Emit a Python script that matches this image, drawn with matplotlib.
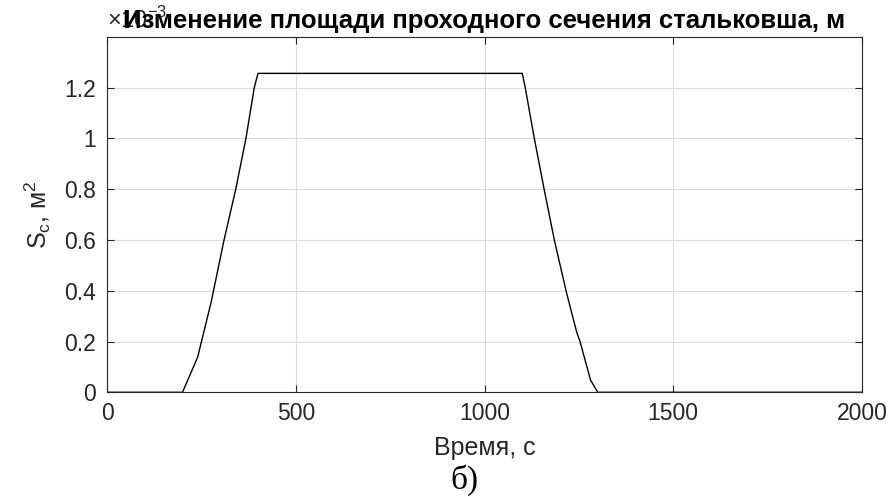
import matplotlib
matplotlib.use("Agg")
import matplotlib.pyplot as plt
from matplotlib.ticker import FuncFormatter

# time, s
time_s = [0, 200, 240, 276, 310, 341, 368, 390, 400,
          1100, 1108, 1132, 1158, 1185, 1216, 1244, 1253, 1281, 1300, 2000]
# area, m^2
area_m2 = [0, 0, 0.138e-3, 0.356e-3, 0.6e-3, 0.8e-3, 1.0e-3, 1.2e-3, 1.2566e-3,
           1.2566e-3, 1.2e-3, 1.0e-3, 0.8e-3, 0.6e-3, 0.4e-3, 0.238e-3, 0.2e-3, 0.048e-3, 0, 0]

x_ticks = [0, 500, 1000, 1500, 2000]
y_ticks = [0, 0.2e-3, 0.4e-3, 0.6e-3, 0.8e-3, 1.0e-3, 1.2e-3]

plt.rcParams['font.family'] = ['Liberation Sans', 'DejaVu Sans']
plt.rcParams['mathtext.fontset'] = 'custom'
plt.rcParams['mathtext.rm'] = 'Liberation Sans'

fig = plt.figure(figsize=(8.94, 4.97), dpi=100)
ax = fig.add_axes([0.1197, 0.2107, 0.8445, 0.7149])

ax.plot(time_s, area_m2, color="black", linewidth=1.0)

ax.set_xlim(0, 2000)
ax.set_ylim(0, 1.4e-3)
ax.set_xticks(x_ticks)
ax.set_yticks(y_ticks)
ax.yaxis.set_major_formatter(FuncFormatter(lambda v, p: f"{v * 1e3:g}"))

ax.grid(True, color="#dcdcdc", linewidth=0.8)
ax.set_axisbelow(True)
ax.tick_params(direction="in", length=5, width=0.8, labelsize=16.5,
               top=True, right=True, colors="#262626", labelcolor="#262626")
ax.tick_params(axis="y", pad=8)
ax.tick_params(axis="x", pad=7)
for s in ax.spines.values():
    s.set_color("#262626")
    s.set_linewidth(0.8)

ax.set_xlabel("Время, с", fontsize=18, color="#262626", labelpad=8)
ax.set_ylabel(r"S$_\mathrm{c}$, м$^\mathrm{2}$", fontsize=18, color="#262626", labelpad=8)

# exponent label, partly covered by the title as in the original
ax.text(0.0, 1.025, r"$\times\mathrm{10}^{\mathrm{-3}}$", transform=ax.transAxes, fontsize=17,
        color="#262626", ha="left", va="baseline")
ax.set_title("Изменение площади проходного сечения стальковша, м",
             fontsize=18.5, fontweight="bold", pad=6.5)

fig.text(0.519, 0.034, "б)", fontsize=24, family=["Liberation Serif", "DejaVu Serif"],
         ha="center", va="center")

fig.savefig("out.png", dpi=100)
